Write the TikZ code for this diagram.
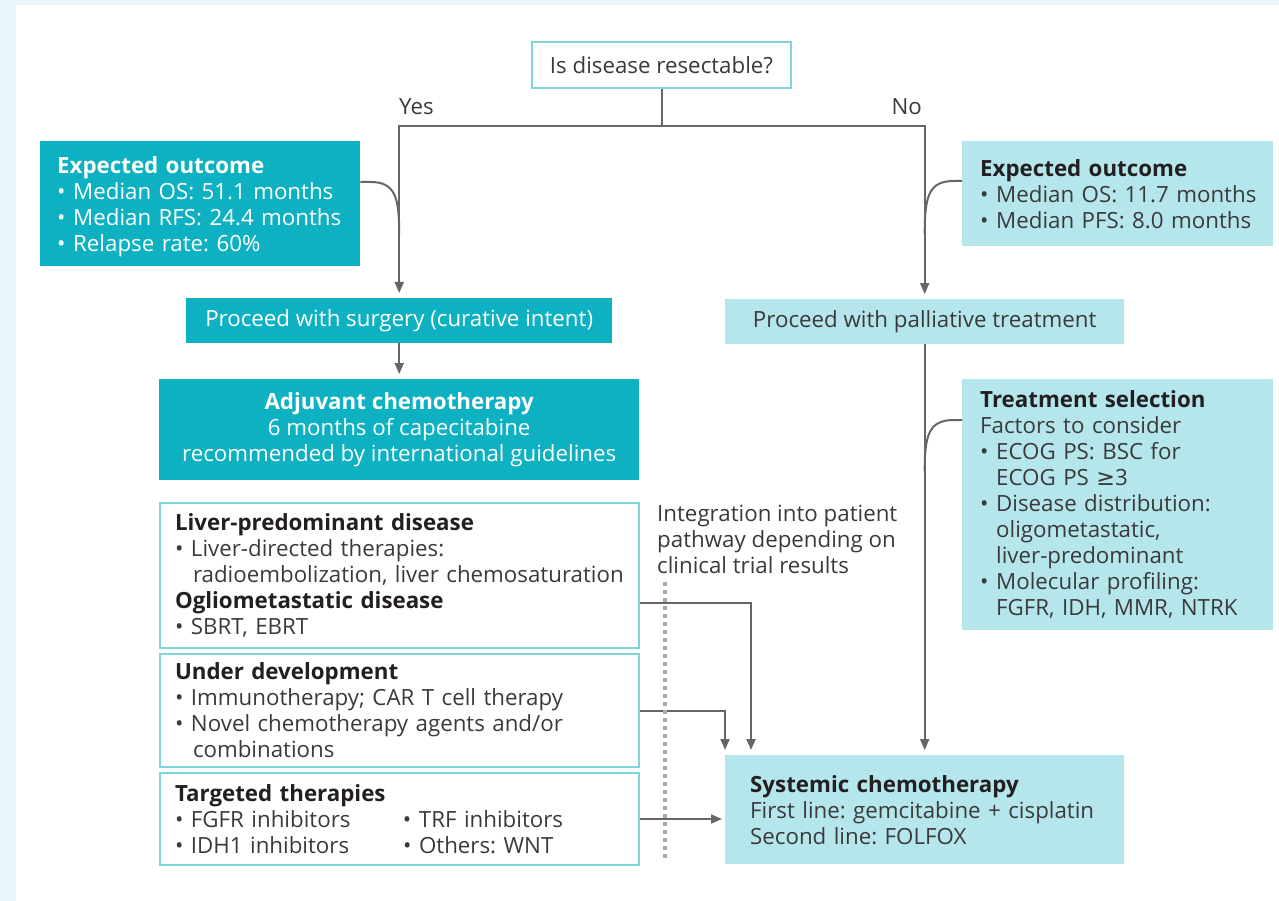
\documentclass[tikz,border=0pt]{standalone}
\usepackage{fontspec}
\setmainfont{Open Sans}
\newfontfamily\djv{DejaVu Sans}
\usetikzlibrary{arrows.meta,calc}
\definecolor{dteal}{HTML}{0EB1C2}
\definecolor{lteal}{HTML}{B4E6EB}
\definecolor{bline}{HTML}{7FD5DE}
\definecolor{gline}{HTML}{666666}
\definecolor{txt}{HTML}{3A3A3A}
\definecolor{ttl}{HTML}{231F20}
\definecolor{bgc}{HTML}{E9F5F8}
\definecolor{dotc}{HTML}{AAAAAA}
\newcommand{\bul}[1]{\mbox{\makebox[16pt][l]{\textbullet}#1}}
\newcommand{\cnt}[2][16pt]{\mbox{\hspace*{#1}#2}}
\newcommand{\hd}[1]{\mbox{\bfseries #1}}
\newcommand{\hdd}[1]{\mbox{\bfseries\color{ttl}#1}}
\begin{document}
\begin{tikzpicture}[x=1pt,y=-1pt,
  every node/.style={font=\fontsize{22.3}{26}\selectfont\frenchspacing, text=txt, inner sep=0pt},
  boxbase/.style={rectangle, anchor=north west, inner ysep=0pt},
  darkbox/.style={boxbase, fill=dteal, text=white},
  lightbox/.style={boxbase, fill=lteal, text=txt},
  linebox/.style={boxbase, draw=bline, line width=2pt, fill=white},
  conn/.style={draw=gline, line width=2pt},
  arr/.style={conn, -{Triangle[width=9pt,length=11pt]}},
  dots/.style={draw=dotc, line width=4pt, dash pattern=on 4pt off 4pt}
]
\fill[bgc] (0,0) rectangle (1279,901);
\fill[white] (16,5) rectangle (1279,901);
\useasboundingbox (0,0) rectangle (1279,901);

\node[linebox, minimum width=259pt, minimum height=46pt] (q) at (531,41) {Is disease resectable?};

\node[anchor=base west] (yes) at (399,115) {Yes};
\node[anchor=base east] (no) at (922,115) {No};

\node[darkbox, minimum width=320pt, minimum height=125pt, text width=286pt, inner xsep=17pt, align=left] (eoL) at (40,141)
 {\rule{0pt}{22pt}\hd{Expected outcome}\\ \bul{Median OS: 51.1 months}\\ \bul{Median RFS: 24.4 months}\\ \bul{Relapse rate: 60\%}};

\node[lightbox, minimum width=311pt, minimum height=105pt, text width=275pt, inner xsep=18pt, align=left] (eoR) at (962,141)
 {\hdd{Expected outcome}\\ \bul{Median OS: 11.7 months}\\ \bul{Median PFS: 8.0 months}};

\node[darkbox, minimum width=426pt, minimum height=45pt] (surg) at (186,298) {Proceed with surgery (curative intent)};
\node[lightbox, minimum width=399pt, minimum height=45pt] (pall) at (725,299) {Proceed with palliative treatment};

\node[darkbox, minimum width=480pt, minimum height=101pt, align=center] (adj) at (159,379)
 {\hd{Adjuvant chemotherapy}\\6 months of capecitabine\\recommended by international guidelines};

\node[lightbox, minimum width=311pt, minimum height=251pt, text width=275pt, inner xsep=18pt, align=left] (ts) at (962,379)
 {\hdd{Treatment selection}\\ \mbox{Factors to consider}\\ \bul{ECOG PS: BSC for}\\ \cnt{ECOG PS {\djv ≥}3}\\ \bul{Disease distribution:}\\ \cnt{oligometastatic,}\\ \cnt{liver-predominant}\\ \bul{Molecular profiling:}\\ \cnt{FGFR, IDH, MMR, NTRK}};

\node[lightbox, minimum width=399pt, minimum height=109pt, text width=349pt, inner xsep=25pt, align=left] (sys) at (725,755)
 {\hdd{Systemic chemotherapy}\\ \mbox{First line: gemcitabine + cisplatin}\\ \mbox{Second line: FOLFOX}};

\node[linebox, minimum width=479pt, minimum height=145pt, text width=449pt, inner xsep=15pt, align=left] (b1) at (159,502)
 {\hdd{Liver-predominant disease}\\ \bul{Liver-directed therapies:}\\ \cnt[18pt]{radioembolization, liver chemosaturation}\\ \hdd{Ogliometastatic disease}\\ \bul{SBRT, EBRT}};

\node[linebox, minimum width=479pt, minimum height=113pt, text width=449pt, inner xsep=15pt, align=left] (b2) at (159,653)
 {\hdd{Under development}\\ \bul{Immunotherapy; CAR T cell therapy}\\ \bul{Novel chemotherapy agents and/or}\\ \cnt[18pt]{combinations}};

\node[linebox, minimum width=479pt, minimum height=92pt, text width=449pt, inner xsep=15pt, align=left] (b3) at (159,772)
 {\hdd{Targeted therapies}\\ \mbox{\makebox[228pt][l]{\bul{FGFR inhibitors}}\bul{TRF inhibitors}}\\ \mbox{\makebox[228pt][l]{\bul{IDH1 inhibitors}}\bul{Others: WNT}}};

\node[anchor=north west, align=left] (note) at (657,505) {Integration into patient\\pathway depending on\\clinical trial results};

% main tree
\coordinate (split) at ($(q.south)+(0,37)$);
\draw[conn] (q.south) -- (split);
\draw[arr, shorten >=5pt] (split) -| (surg.north);
\draw[arr, shorten >=5pt] (split) -| (pall.north);
\draw[arr, shorten >=5pt] (surg.south) -- (adj.north);
\draw[arr, shorten >=5pt] (pall.south) -- (sys.north);

% curved joins
\coordinate (cL) at ($(eoL.north east)+(0,41)$);
\draw[conn] (cL) -- ++(10,0) .. controls ($(cL -| surg.north)+(-4,0)$) and ($(cL -| surg.north)+(0,15)$) .. ($(cL -| surg.north)+(0,53)$);
\coordinate (cR) at ($(eoR.north west)+(0,40)$);
\draw[conn] (cR) -- ++(-8,0) .. controls ($(cR -| pall.north)+(4,0)$) and ($(cR -| pall.north)+(0,15)$) .. ($(cR -| pall.north)+(0,53)$);
\coordinate (cT) at ($(ts.north west)+(0,41)$);
\draw[conn] (cT) -- ++(-8,0) .. controls ($(cT -| pall.south)+(4,0)$) and ($(cT -| pall.south)+(0,15)$) .. ($(cT -| pall.south)+(0,51)$);

% left boxes to systemic
\draw[arr, shorten >=5pt] ($(b1.north east)+(0,101)$) -| ($(sys.north west)+(26,0)$);
\draw[arr, shorten >=5pt] (b2.east) -| (sys.north west);
\draw[arr, shorten >=3pt] (b3.east) -- (b3.east -| sys.west);

% dotted divider
\coordinate (dTop) at (665,582);
\coordinate (dBot) at (665,862);
\draw[dots] (dTop) -- (dBot);
\end{tikzpicture}
\end{document}
